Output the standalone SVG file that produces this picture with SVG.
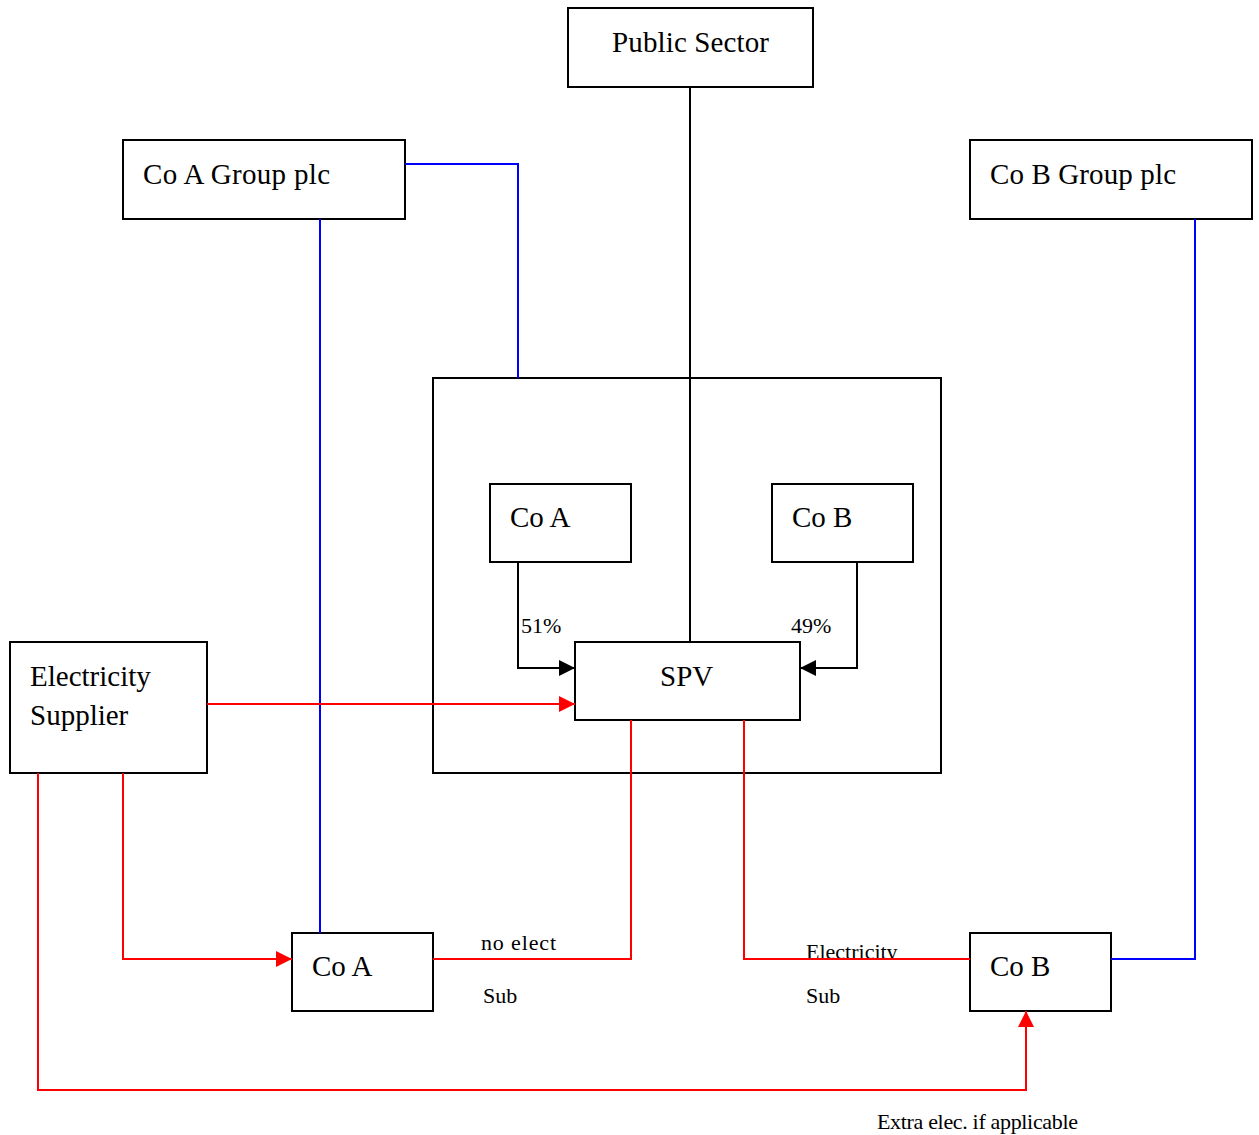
<svg xmlns="http://www.w3.org/2000/svg" width="1259" height="1135" viewBox="0 0 1259 1135">
  <style>
    .box { fill: #ffffff; stroke: #000000; stroke-width: 2; }
    .lbl { font-family: "Liberation Serif", "Times New Roman", serif; font-size: 29px; fill: #000000; }
    .small { font-family: "Liberation Serif", "Times New Roman", serif; font-size: 22px; fill: #000000; }
    .blk { fill: none; stroke: #000000; stroke-width: 2; }
    .blue { fill: none; stroke: #0000ff; stroke-width: 2; }
    .red { fill: none; stroke: #ff0000; stroke-width: 2; }
  </style>
  <defs>
    <marker id="arrowBlack" markerUnits="userSpaceOnUse" markerWidth="16" markerHeight="16" viewBox="0 0 16 16" refX="16" refY="8" orient="auto">
      <path d="M0,0 L16,8 L0,16 Z" fill="#000000"/>
    </marker>
    <marker id="arrowRed" markerUnits="userSpaceOnUse" markerWidth="16" markerHeight="16" viewBox="0 0 16 16" refX="16" refY="8" orient="auto">
      <path d="M0,0 L16,8 L0,16 Z" fill="#ff0000"/>
    </marker>
    <clipPath id="clipAboveLine">
      <rect x="780" y="920" width="200" height="38"/>
    </clipPath>
  </defs>

  <rect width="1259" height="1135" fill="#ffffff"/>

  <!-- SPV holding container -->
  <g id="container">
    <rect class="box" x="433" y="378" width="508" height="395" fill="none"/>
  </g>

  <g id="public-sector">
    <rect class="box" x="568" y="8" width="245" height="79"/>
    <text class="lbl" x="612" y="52" textLength="157">Public Sector</text>
  </g>

  <g id="co-a-group">
    <rect class="box" x="123" y="140" width="282" height="79"/>
    <text class="lbl" x="143" y="184" textLength="187">Co A Group plc</text>
  </g>

  <g id="co-b-group">
    <rect class="box" x="970" y="140" width="282" height="79"/>
    <text class="lbl" x="990" y="184" textLength="186">Co B Group plc</text>
  </g>

  <g id="co-a-inner">
    <rect class="box" x="490" y="484" width="141" height="78"/>
    <text class="lbl" x="510" y="527">Co A</text>
  </g>

  <g id="co-b-inner">
    <rect class="box" x="772" y="484" width="141" height="78"/>
    <text class="lbl" x="792" y="527">Co B</text>
  </g>

  <g id="spv">
    <rect class="box" x="575" y="642" width="225" height="78"/>
    <text class="lbl" x="660" y="686">SPV</text>
  </g>

  <g id="electricity-supplier">
    <rect class="box" x="10" y="642" width="197" height="131"/>
    <text class="lbl" x="30" y="686">Electricity</text>
    <text class="lbl" x="30" y="725">Supplier</text>
  </g>

  <g id="co-a-sub">
    <rect class="box" x="292" y="933" width="141" height="78"/>
    <text class="lbl" x="312" y="976">Co A</text>
  </g>

  <g id="co-b-sub">
    <rect class="box" x="970" y="933" width="141" height="78"/>
    <text class="lbl" x="990" y="976">Co B</text>
  </g>

  <!-- edge labels -->
  <g id="labels">
    <text class="small" x="521" y="633">51%</text>
    <text class="small" x="791" y="633">49%</text>
    <text class="small" x="481" y="950" textLength="75">no elect</text>
    <text class="small" x="483" y="1003">Sub</text>
    <text class="small" x="806" y="959" clip-path="url(#clipAboveLine)">Electricity</text>
    <text class="small" x="806" y="1003">Sub</text>
    <text class="small" x="877" y="1129" textLength="201">Extra elec. if applicable</text>
  </g>

  <g id="connectors">
    <!-- ownership -->
    <path class="blk" d="M690,87 L690,642"/>
    <path class="blk" d="M518,562 L518,668 L575,668" marker-end="url(#arrowBlack)"/>
    <path class="blk" d="M857,562 L857,668 L800,668" marker-end="url(#arrowBlack)"/>
    <!-- group links -->
    <path class="blue" d="M405,164 L518,164 L518,378"/>
    <path class="blue" d="M320,219 L320,933"/>
    <path class="blue" d="M1195,219 L1195,959 L1111,959"/>
    <!-- electricity flows -->
    <path class="red" d="M207,704 L575,704" marker-end="url(#arrowRed)"/>
    <path class="red" d="M123,773 L123,959 L292,959" marker-end="url(#arrowRed)"/>
    <path class="red" d="M38,773 L38,1090 L1026,1090 L1026,1011" marker-end="url(#arrowRed)"/>
    <path class="red" d="M433,959 L631,959 L631,720"/>
    <path class="red" d="M744,720 L744,959 L970,959"/>
  </g>
</svg>
